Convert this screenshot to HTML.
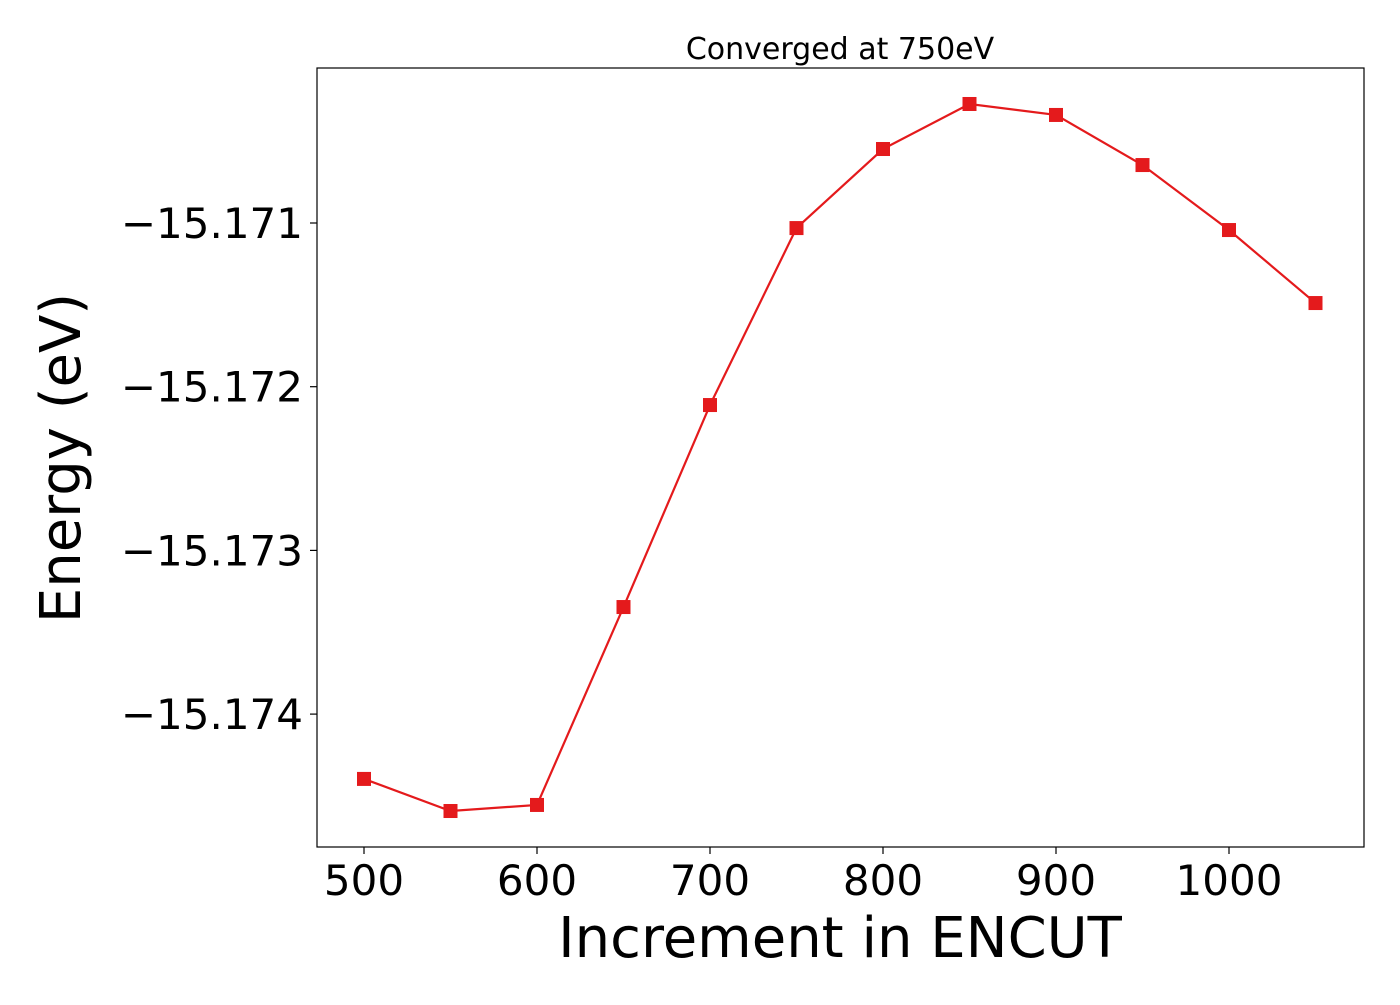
<!DOCTYPE html>
<html><head><meta charset="utf-8"><style>
html,body{margin:0;padding:0;background:#fff;}
svg text{font-family:"DejaVu Sans","Liberation Sans",sans-serif;fill:#000;}
</style></head><body>
<svg width="1400" height="1000" xmlns="http://www.w3.org/2000/svg">
<rect x="0" y="0" width="1400" height="1000" fill="#fff"/>
<text x="840" y="59" font-size="30" text-anchor="middle">Converged at 750eV</text>
<g id="plot"></g>
<rect x="317" y="68" width="1047" height="779" fill="none" stroke="#000" stroke-width="1.2"/>
<text x="840" y="957" font-size="56" text-anchor="middle">Increment in ENCUT</text>
<text transform="translate(80,458) rotate(-90)" font-size="56" text-anchor="middle">Energy (eV)</text>
</svg>
<script>
const encut = [500,550,600,650,700,750,800,850,900,950,1000,1050];
const energy = [-15.174396,-15.174592,-15.174555,-15.173346,-15.172112,-15.171031,-15.170548,-15.170273,-15.170340,-15.170646,-15.171043,-15.171489];
const xTicks = [500,600,700,800,900,1000];
const yTicks = [-15.171,-15.172,-15.173,-15.174];
const yTickLabels = ["\u221215.171","\u221215.172","\u221215.173","\u221215.174"];
const NS="http://www.w3.org/2000/svg";
const svg=document.querySelector('svg');
const g=document.getElementById('plot');
function xs(v){return 364+(v-500)*1.73;}
function ys(v){return 223+(-15.171-v)/0.001*163.7;}
xTicks.forEach(t=>{
  const l=document.createElementNS(NS,'line');
  l.setAttribute('x1',xs(t));l.setAttribute('x2',xs(t));l.setAttribute('y1',847);l.setAttribute('y2',854);
  l.setAttribute('stroke','#000');l.setAttribute('stroke-width','1.2');
  
  
  svg.appendChild(l);
  const tx=document.createElementNS(NS,'text');
  tx.setAttribute('x',xs(t));tx.setAttribute('y',895);tx.setAttribute('font-size','42');tx.setAttribute('text-anchor','middle');
  tx.textContent=t;
  
  
  svg.appendChild(tx);
});
yTicks.forEach((t,i)=>{
  const l=document.createElementNS(NS,'line');
  l.setAttribute('x1',310);l.setAttribute('x2',317);l.setAttribute('y1',ys(t));l.setAttribute('y2',ys(t));
  l.setAttribute('stroke','#000');l.setAttribute('stroke-width','1.2');
  
  
  svg.appendChild(l);
  const tx=document.createElementNS(NS,'text');
  tx.setAttribute('x',303);tx.setAttribute('y',ys(t)+15);tx.setAttribute('font-size','42');tx.setAttribute('text-anchor','end');
  tx.textContent=yTickLabels[i];
  
  
  svg.appendChild(tx);
});
const pl=document.createElementNS(NS,'polyline');
pl.setAttribute('points',encut.map((x,i)=>xs(x)+','+ys(energy[i])).join(' '));
pl.setAttribute('fill','none');pl.setAttribute('stroke','#e41a1c');pl.setAttribute('stroke-width','2.2');


g.appendChild(pl);
encut.forEach((x,i)=>{
  const r=document.createElementNS(NS,'rect');
  r.setAttribute('x',xs(x)-7);r.setAttribute('y',ys(energy[i])-7);r.setAttribute('width',14);r.setAttribute('height',14);
  r.setAttribute('fill','#e41a1c');
  
  
  g.appendChild(r);
});
</script>
</body></html>
